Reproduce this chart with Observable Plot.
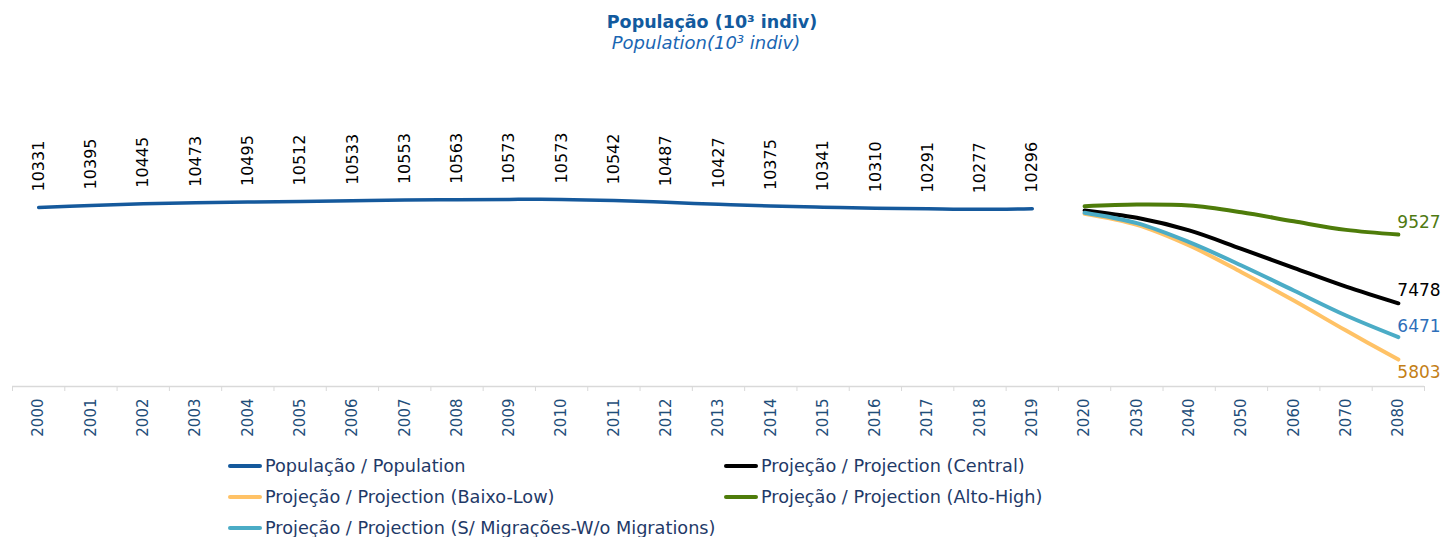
<!DOCTYPE html>
<html>
<head>
<meta charset="utf-8">
<script src="https://cdn.jsdelivr.net/npm/d3@7"></script>
<script src="https://cdn.jsdelivr.net/npm/@observablehq/plot@0.6"></script>
<style>
  body { margin: 0; background: #fff; font-family: "DejaVu Sans", Verdana, sans-serif; }
  #wrap { position: relative; width: 1442px; height: 537px; overflow: hidden; background: #fff; }
  #head { position: relative; height: 56px; }
  #t1 { position: absolute; left: 0; width: 1424px; top: 13.7px; text-align: center; font-weight: bold; font-size: 17.5px; line-height: 1; color: #125a9e; }
  #t2 { position: absolute; left: 0; width: 1412px; top: 34.3px; text-align: center; font-style: italic; font-size: 18px; line-height: 1; color: #1a66b3; }
  #chart svg { display: block; }
  #legend { position: relative; height: 91px; }
  .item { position: absolute; display: flex; align-items: center; height: 31px; font-size: 17.7px; color: #1f3a68; white-space: nowrap; }
  .sw { width: 34px; height: 4px; border-radius: 2px; margin-right: 3px; }
</style>
</head>
<body>
<div id="wrap">
  <div id="head">
    <div id="t1">População (10³ indiv)</div>
    <div id="t2">Population(10³ indiv)</div>
  </div>
  <div id="chart"></div>
  <div id="legend"></div>
</div>
<script>
// ---- Data ----
const categories = ["2000","2001","2002","2003","2004","2005","2006","2007","2008","2009",
  "2010","2011","2012","2013","2014","2015","2016","2017","2018","2019",
  "2020","2030","2040","2050","2060","2070","2080"];
const histYears = ["2000","2001","2002","2003","2004","2005","2006","2007","2008","2009",
  "2010","2011","2012","2013","2014","2015","2016","2017","2018","2019"];
const population = [10331,10395,10445,10473,10495,10512,10533,10553,10563,10573,
  10573,10542,10487,10427,10375,10341,10310,10291,10277,10296];
const projYears = ["2020","2030","2040","2050","2060","2070","2080"];
const central = [10245,10025,9650,9100,8535,7975,7478];
const low     = [10145,9815,9200,8405,7560,6665,5803];
const high    = [10370,10420,10390,10190,9920,9665,9527];
const noMig   = [10175,9865,9300,8605,7860,7115,6471];
const seriesNames = [
  "População / Population",
  "Projeção / Projection (Central)",
  "Projeção / Projection (Baixo-Low)",
  "Projeção / Projection (Alto-High)",
  "Projeção / Projection (S/ Migrações-W/o Migrations)"
];
const colors = ["#15599c", "#000000", "#ffc266", "#4e7c0a", "#4bacc6"];
const endLabelColors = {central: "#000000", low: "#c47f17", high: "#4f7a12", noMig: "#2e6fba"};

// ---- Build tables ----
const hist = histYears.map((year, i) => ({year, value: population[i]}));
const mk = arr => projYears.map((year, i) => ({year, value: arr[i]}));
const proj = {central: mk(central), low: mk(low), high: mk(high), noMig: mk(noMig)};

const W = 1442, mL = 12, mR = 18;
const step = (W - mL - mR) / categories.length;

const endLabel = (key, dy) => Plot.text([proj[key][proj[key].length - 1]], {
  x: "year", y: "value", text: d => String(d.value), textAnchor: "start",
  dx: -1, dy, fontSize: 17, fill: endLabelColors[key]
});

const chart = Plot.plot({
  width: W, height: 390,
  marginTop: 95, marginBottom: 60, marginLeft: mL, marginRight: mR,
  style: {fontFamily: "'DejaVu Sans', Verdana, sans-serif", background: "#fff", overflow: "visible"},
  x: {type: "band", domain: categories, padding: 0, round: false, axis: null},
  y: {domain: [5000, 12000], axis: null},
  marks: [
    Plot.ruleY([5000], {stroke: "#d9d9d9", strokeWidth: 1.3}),
    Plot.axisX({tickSize: 5, tickFormat: () => "", stroke: "#d9d9d9", dx: -step / 2, label: null}),
    Plot.axisX([categories[categories.length - 1]], {tickSize: 5, tickFormat: () => "", stroke: "#d9d9d9", dx: step / 2, label: null}),
    Plot.axisX({tickSize: 0, tickPadding: 12, tickRotate: -90, fontSize: 15, fill: "#1f4e79", label: null}),
    Plot.line(hist, {x: "year", y: "value", stroke: colors[0], strokeWidth: 3.5, curve: "catmull-rom"}),
    Plot.line(proj.central, {x: "year", y: "value", stroke: colors[1], strokeWidth: 4, curve: "catmull-rom"}),
    Plot.line(proj.low, {x: "year", y: "value", stroke: colors[2], strokeWidth: 4, curve: "catmull-rom"}),
    Plot.line(proj.high, {x: "year", y: "value", stroke: colors[3], strokeWidth: 4, curve: "catmull-rom"}),
    Plot.line(proj.noMig, {x: "year", y: "value", stroke: colors[4], strokeWidth: 4, curve: "catmull-rom"}),
    Plot.text(hist, {x: "year", y: "value", text: d => String(d.value), rotate: -90,
      textAnchor: "start", dy: -16, fontSize: 16, fill: "#000"}),
    endLabel("high", -12),
    endLabel("central", -13),
    endLabel("noMig", -11),
    endLabel("low", 13)
  ]
});
document.getElementById("chart").appendChild(chart);

// ---- Legend ----
const legend = document.getElementById("legend");
const pos = [[228, 4.5], [724, 4.5], [228, 35.5], [724, 35.5], [228, 66.5]];
seriesNames.forEach((name, i) => {
  const it = document.createElement("div");
  it.className = "item";
  it.style.left = pos[i][0] + "px";
  it.style.top = pos[i][1] + "px";
  const sw = document.createElement("span");
  sw.className = "sw";
  sw.style.background = colors[i];
  const tx = document.createElement("span");
  tx.textContent = name;
  it.appendChild(sw);
  it.appendChild(tx);
  legend.appendChild(it);
});
</script>
</body>
</html>
